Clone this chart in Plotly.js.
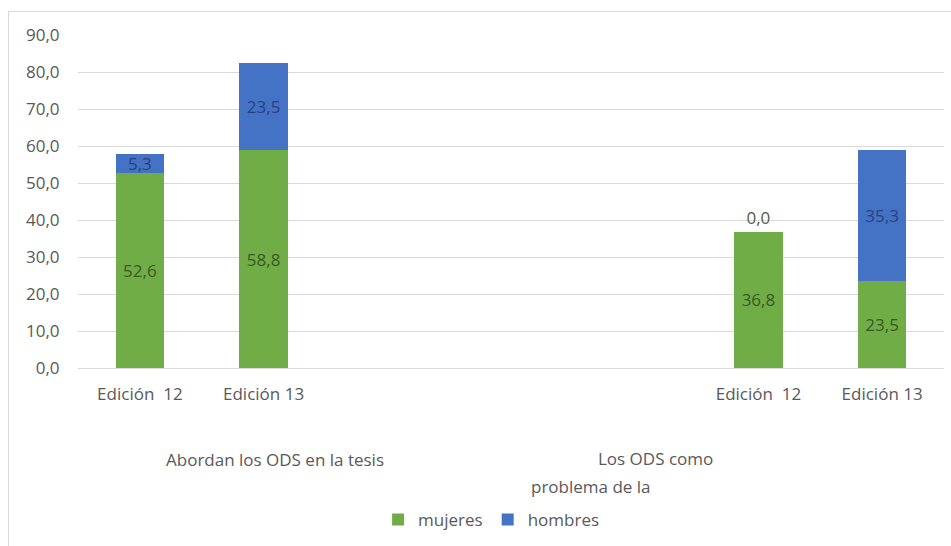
<!DOCTYPE html>
<html>
<head>
<meta charset="utf-8">
<script src="https://cdn.plot.ly/plotly-3.0.1.min.js"></script>
<style>
  html, body { margin: 0; padding: 0; background: #ffffff; }
  #frame { position: absolute; left: 8px; top: 11px; width: 960px; height: 560px; border: 1px solid #d9d9d9; box-sizing: border-box; }
  #chart { position: absolute; left: 0; top: 0; width: 951px; height: 546px; }
</style>
</head>
<body>
<div id="frame"></div>
<div id="chart"></div>
<script>
// ---- data ----
const categorias = ["Edición\u00a0 12", "Edición 13"];
const grupos = ["Abordan los ODS en la tesis", "Los ODS como problema de la"];
const mujeresAbordan = [52.6, 58.8];
const hombresAbordan = [5.3, 23.5];
const mujeresProblema = [36.8, 23.5];
const hombresProblema = [0.0, 35.3];
const yTickValues = [0, 10, 20, 30, 40, 50, 60, 70, 80, 90];

// ---- build traces ----
const slotOffset = 5; // empty slots between the two groups
const xs = [];
const ticktext = [];
[0, 1].forEach(g => categorias.forEach((c, i) => { xs.push(g * slotOffset + i); ticktext.push(c); }));

const mujeres = mujeresAbordan.concat(mujeresProblema);
const hombres = hombresAbordan.concat(hombresProblema);

const FONT = "Open Sans, sans-serif";
const FS = 17;
const GREY = "#595959";
const GREEN = "#70AD47", BLUE = "#4472C4";

const traceM = {
  type: "bar", name: "mujeres", x: xs, y: mujeres,
  marker: { color: GREEN },
  texttemplate: "%{y:.1f}", textposition: "inside", insidetextanchor: "middle",
  textfont: { family: FONT, size: FS, color: "#375a22" },
  hoverinfo: "skip", cliponaxis: false
};
const traceH = {
  type: "bar", name: "hombres", x: xs, y: hombres,
  marker: { color: BLUE },
  texttemplate: "%{y:.1f}",
  textposition: hombres.map(v => v === 0 ? "outside" : "inside"),
  insidetextanchor: "middle",
  textfont: { family: FONT, size: FS, color: "#24437e" },
  outsidetextfont: { family: FONT, size: FS, color: "#4f5f45" },
  constraintext: "none",
  hoverinfo: "skip", cliponaxis: false
};

const layout = {
  width: 951, height: 546,
  margin: { l: 78, r: 7, t: 35, b: 178 },
  paper_bgcolor: "rgba(0,0,0,0)", plot_bgcolor: "rgba(0,0,0,0)",
  barmode: "stack", bargap: 0.61,
  separators: ",.",
  font: { family: FONT, size: FS, color: GREY },
  showlegend: true,
  legend: {
    orientation: "h", traceorder: "normal",
    x: 0.477, xanchor: "center", y: -0.456, yanchor: "middle",
    font: { family: FONT, size: FS, color: GREY }, itemwidth: 30
  },
  xaxis: {
    range: [-0.5, 6.5], tickmode: "array", tickvals: xs, ticktext: ticktext,
    showgrid: false, zeroline: false, showline: false,
    ticks: "outside", ticklen: 11, tickcolor: "rgba(0,0,0,0)",
    tickfont: { family: FONT, size: FS, color: GREY }, fixedrange: true
  },
  yaxis: {
    range: [0, 90], tickmode: "array", tickvals: yTickValues, tickformat: ".1f",
    showgrid: true, gridcolor: "#d9d9d9", gridwidth: 1,
    zeroline: true, zerolinecolor: "#d9d9d9", zerolinewidth: 1,
    showline: false, ticks: "outside", ticklen: 14, tickcolor: "rgba(0,0,0,0)",
    tickfont: { family: FONT, size: FS, color: GREY }, fixedrange: true
  },
  annotations: [
    { text: grupos[0], xref: "paper", yref: "paper", x: 0.2275, y: -0.276,
      xanchor: "center", yanchor: "middle", showarrow: false,
      font: { family: FONT, size: FS, color: GREY } },
    { text: "Los ODS como", xref: "paper", yref: "paper", x: 0.667, y: -0.273,
      xanchor: "center", yanchor: "middle", showarrow: false,
      font: { family: FONT, size: FS, color: GREY } },
    { text: "problema de la", xref: "paper", yref: "paper", x: 0.592, y: -0.357,
      xanchor: "center", yanchor: "middle", showarrow: false,
      font: { family: FONT, size: FS, color: GREY } }
  ]
};

Plotly.newPlot("chart", [traceM, traceH], layout, { displayModeBar: false, staticPlot: true });
</script>
</body>
</html>
